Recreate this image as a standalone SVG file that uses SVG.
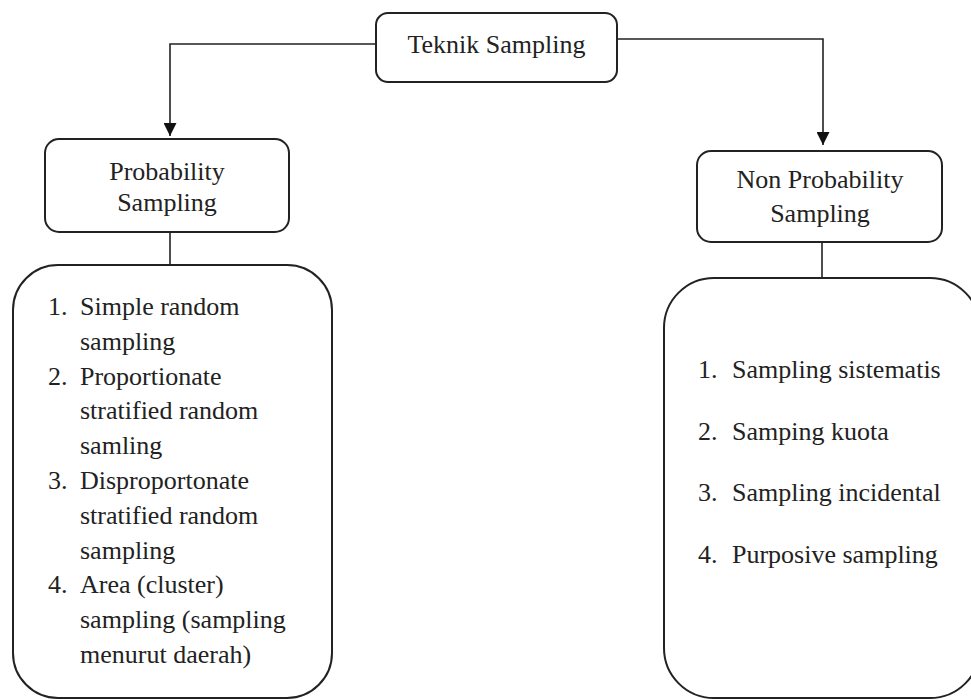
<svg xmlns="http://www.w3.org/2000/svg" width="971" height="700" viewBox="0 0 971 700">
<defs>
<style>
.box{fill:#fff;stroke:#222;stroke-width:2}
.conn{fill:none;stroke:#222;stroke-width:1.6}
.t{font-family:"Liberation Serif","Times New Roman",serif;font-size:26px;fill:#222}
.c{text-anchor:middle}
</style>
<marker id="arr" viewBox="0 0 10 10" refX="10" refY="5" markerWidth="13" markerHeight="13" markerUnits="userSpaceOnUse" orient="auto">
<path d="M0,0 L10,5 L0,10 Z" fill="#111"/>
</marker>
</defs>
<rect width="971" height="700" fill="#fff"/>
<g id="connectors">
<path class="conn" d="M376,44 H170 V136" marker-end="url(#arr)"/>
<path class="conn" d="M617,39 H823 V145" marker-end="url(#arr)"/>
<path class="conn" d="M170,232 V265"/>
<path class="conn" d="M822,242 V278"/>
</g>
<g id="teknik">
<rect class="box" x="376" y="13" width="241" height="69" rx="12"/>
<text class="t c" x="496.5" y="53">Teknik Sampling</text>
</g>
<g id="probability">
<rect class="box" x="45" y="139" width="244" height="93" rx="14"/>
<text class="t c" x="167" y="180">Probability</text>
<text class="t c" x="167" y="211">Sampling</text>
</g>
<g id="nonprobability">
<rect class="box" x="697" y="151" width="245" height="91" rx="14"/>
<text class="t c" x="820" y="188">Non Probability</text>
<text class="t c" x="820" y="222">Sampling</text>
</g>
<g id="prob-list">
<rect class="box" x="13" y="265" width="319" height="433" rx="45"/>
<text class="t" x="48" y="315">1.</text>
<text class="t" x="80" y="315">Simple random</text>
<text class="t" x="80" y="350">sampling</text>
<text class="t" x="48" y="385">2.</text>
<text class="t" x="80" y="385">Proportionate</text>
<text class="t" x="80" y="419">stratified random</text>
<text class="t" x="80" y="454">samling</text>
<text class="t" x="48" y="489">3.</text>
<text class="t" x="80" y="489">Disproportonate</text>
<text class="t" x="80" y="524">stratified random</text>
<text class="t" x="80" y="559">sampling</text>
<text class="t" x="48" y="593">4.</text>
<text class="t" x="80" y="593">Area (cluster)</text>
<text class="t" x="80" y="628">sampling (sampling</text>
<text class="t" x="80" y="663">menurut daerah)</text>
</g>
<g id="nonprob-list">
<rect class="box" x="664" y="278" width="316" height="420" rx="50"/>
<text class="t" x="698" y="378">1.</text>
<text class="t" x="732" y="378">Sampling sistematis</text>
<text class="t" x="698" y="440">2.</text>
<text class="t" x="732" y="440">Samping kuota</text>
<text class="t" x="698" y="501">3.</text>
<text class="t" x="732" y="501">Sampling incidental</text>
<text class="t" x="698" y="563">4.</text>
<text class="t" x="732" y="563">Purposive sampling</text>
</g>
</svg>
